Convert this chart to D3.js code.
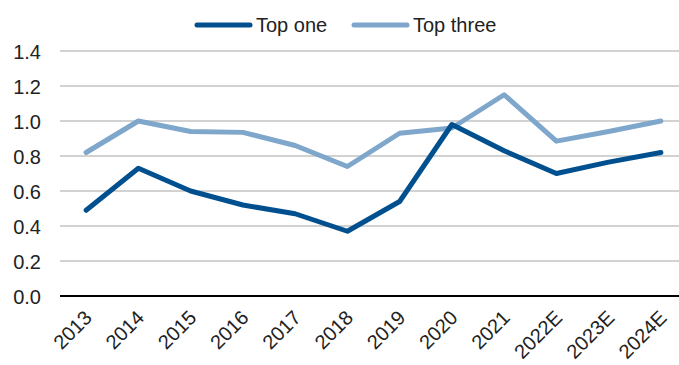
<!DOCTYPE html>
<html><head><meta charset="utf-8">
<script src="https://cdn.jsdelivr.net/npm/d3@7"></script>
<style>body{margin:0;background:#fff}svg{display:block}text{font-family:"Liberation Sans",Arial,sans-serif}</style>
</head><body><svg id="c" width="679" height="365"></svg>
<script>
const categories = ["2013","2014","2015","2016","2017","2018","2019","2020","2021","2022E","2023E","2024E"];
const topOne   = [0.49,0.73,0.60,0.52,0.47,0.37,0.54,0.98,0.83,0.70,0.765,0.82];
const topThree = [0.82,1.00,0.94,0.935,0.86,0.74,0.93,0.96,1.15,0.885,0.94,1.00];
const yTicks = [0,0.2,0.4,0.6,0.8,1.0,1.2,1.4];
const seriesNames = ["Top one","Top three"];
const colors = ["#00508f","#7fa6cb"];

(function(){
const svg = d3.select("#c");
const pL = 60, pR = 687, pT = 51, pB = 296;
const x = d3.scaleBand().domain(categories).range([pL, pR]);
const y = d3.scaleLinear().domain([0,1.4]).range([pB, pT]);

const yAxis = d3.axisLeft(y).tickValues(yTicks).tickSize(0).tickFormat(d3.format(".1f"));
const gy = svg.append("g").attr("transform",`translate(${pL},0)`).call(yAxis);
gy.select(".domain").remove();
gy.selectAll("text").attr("x",-19).attr("dy","0.35em").style("font-size","20px").attr("fill","#222");
svg.append("g").selectAll("line").data(yTicks.filter(d=>d>0)).join("line")
  .attr("x1",pL).attr("x2",679).attr("y1",d=>y(d)).attr("y2",d=>y(d))
  .attr("stroke","#a6a6a6").attr("stroke-width",1.2);

const xAxis = d3.axisBottom(x).tickSize(0);
const gx = svg.append("g").attr("transform",`translate(0,${pB})`).call(xAxis);
gx.select(".domain").remove();
gx.selectAll("text").attr("text-anchor","end").attr("dy",0).attr("y",0)
  .attr("transform","translate(7,23) rotate(-45)").style("font-size","20px").attr("fill","#222");
svg.append("line").attr("x1",pL).attr("x2",679).attr("y1",y(0)).attr("y2",y(0))
  .attr("stroke","#000").attr("stroke-width",2);

const line = d3.line().x((d,i)=>x(categories[i])+x.bandwidth()/2).y(d=>y(d));
[[topThree,1],[topOne,0]].forEach(([s,ci])=>{
  svg.append("path").datum(s).attr("d",line).attr("fill","none")
    .attr("stroke",colors[ci]).attr("stroke-width",5).attr("stroke-linejoin","round").attr("stroke-linecap","round");
});

const legX = [197, 354];
seriesNames.forEach((n,i)=>{
  const g = svg.append("g").attr("transform",`translate(${legX[i]},25)`);
  g.append("line").attr("x1",0).attr("x2",53).attr("stroke",colors[i]).attr("stroke-width",5).attr("stroke-linecap","round");
  g.append("text").attr("x",59).attr("dy","0.35em").style("font-size","20px").attr("fill","#222").text(n);
});
})();
</script></body></html>
